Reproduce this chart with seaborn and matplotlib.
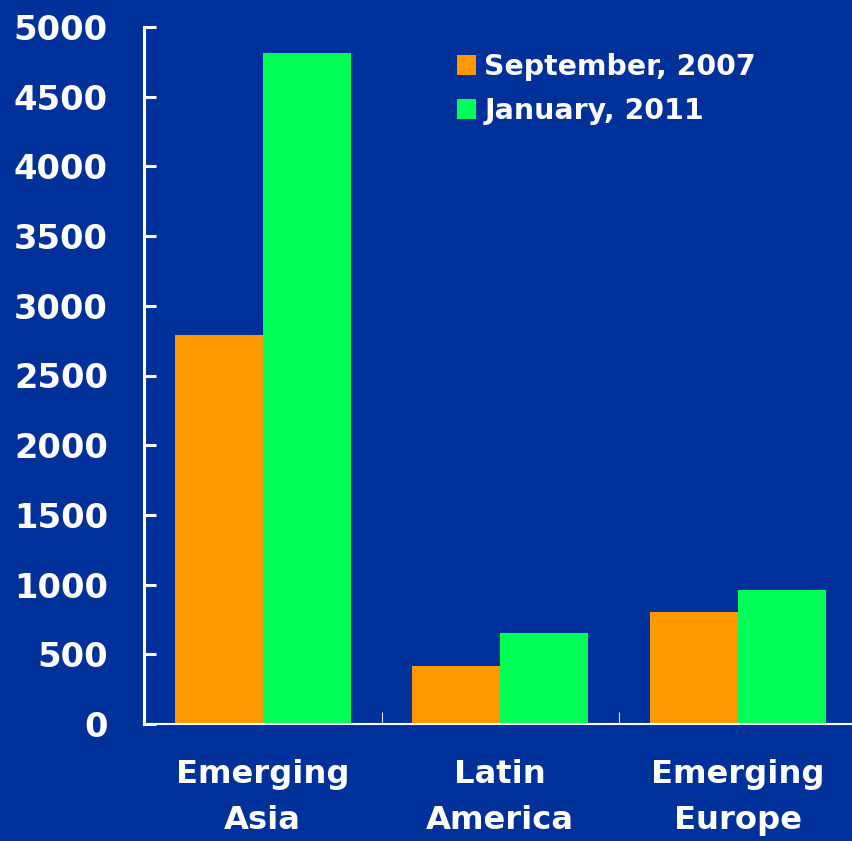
import matplotlib
matplotlib.use("Agg")
import matplotlib.pyplot as plt
import seaborn as sns
import pandas as pd
from matplotlib.ticker import FixedLocator

# Stock of reserves by region (billions)
regions = ["Emerging\nAsia", "Latin\nAmerica", "Emerging\nEurope"]
periods = ["September, 2007", "January, 2011"]
sep_2007 = [2790, 416, 801]
jan_2011 = [4813, 653, 961]
y_ticks = list(range(0, 5001, 500))

df = pd.DataFrame({
    "region": regions * 2,
    "period": [periods[0]] * 3 + [periods[1]] * 3,
    "value": sep_2007 + jan_2011,
})

bg = "#00309A"
sns.set_theme(style="white")
plt.rcParams["font.family"] = ["DejaVu Sans"]

fig = plt.figure(figsize=(8.52, 8.41), dpi=100, facecolor=bg)
ax = fig.add_axes([144 / 852, 117 / 841, (856.5 - 144) / 852, (724 - 27) / 841])
ax.set_facecolor(bg)

sns.barplot(data=df, x="region", y="value", hue="period", hue_order=periods,
            palette=["#FF9900", "#00FF55"], width=0.74, linewidth=0,
            saturation=1, ax=ax)

ax.set_xlim(-0.5, 2.5)
ax.set_ylim(0, 5000)
ax.set_yticks(y_ticks)
ax.set_yticklabels([str(v) for v in y_ticks])
ax.set_xlabel("")
ax.set_ylabel("")

for side in ["top", "right"]:
    ax.spines[side].set_visible(False)
ax.spines["left"].set_color("white")
ax.spines["left"].set_linewidth(2.2)
ax.spines["bottom"].set_color("white")
ax.spines["bottom"].set_linewidth(1.5)

ax.tick_params(axis="y", direction="in", length=8.6, width=2.2, color="white",
               left=True, labelcolor="white", labelsize=24.3, pad=26)
ax.tick_params(axis="x", which="major", bottom=False, labelcolor="white",
               labelsize=23.2, pad=19.5)
ax.xaxis.set_minor_locator(FixedLocator([0.5, 1.5, 2.5]))
ax.tick_params(axis="x", which="minor", direction="in", bottom=True,
               length=9, width=0.8, color="#DDDDEE")
for lab in ax.get_yticklabels() + ax.get_xticklabels():
    lab.set_fontweight("bold")
for lab in ax.get_xticklabels():
    lab.set_linespacing(1.62)

leg = ax.legend(loc="upper left", bbox_to_anchor=(457 / 852, 1 - 53 / 841),
                bbox_transform=fig.transFigure, frameon=False,
                fontsize=20.4, handlelength=0.67, handleheight=0.67,
                handletextpad=0.3, labelspacing=0.56, borderpad=0,
                borderaxespad=0)
for t in leg.get_texts():
    t.set_color("white")
    t.set_fontweight("bold")

fig.savefig("out.png", dpi=100, facecolor=bg)
